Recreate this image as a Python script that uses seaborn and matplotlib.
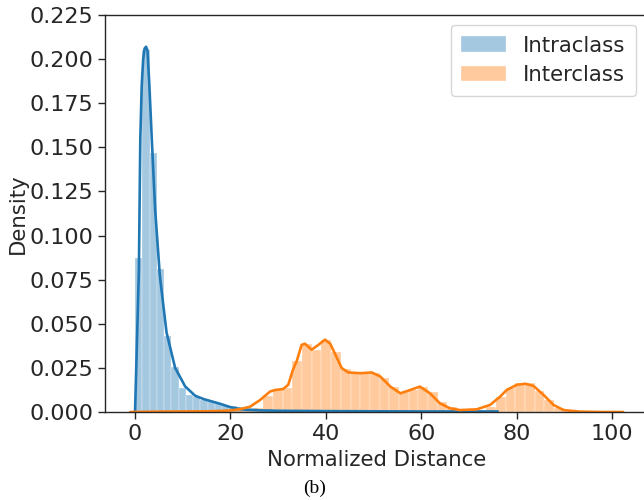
import numpy as np
import pandas as pd
import matplotlib
matplotlib.use("Agg")
import matplotlib.pyplot as plt
import seaborn as sns

# ---- data ----
intra_range = (0.0, 76.0)     # 50 bins
intra_heights = [0.087, 0.205, 0.147, 0.081, 0.043, 0.0256, 0.0137, 0.0097, 0.0085, 0.007,
                 0.006, 0.005, 0.0042, 0.0035, 0.003, 0.0025, 0.0021, 0.0018, 0.0015, 0.0013,
                 0.0012, 0.0011, 0.001, 0.0009, 0.0009, 0.0008, 0.0008, 0.0007, 0.0007, 0.0006,
                 0.0006, 0.0006, 0.0005, 0.0005, 0.0005, 0.0005, 0.0004, 0.0004, 0.0004, 0.0004,
                 0.0004, 0.0003, 0.0003, 0.0003, 0.0003, 0.0003, 0.0003, 0.0003, 0.0002, 0.0004]

inter_range = (0.5, 102.0)    # 50 bins
inter_heights = [0.0001, 0.0001, 0.0001, 0.0002, 0.0002, 0.0002, 0.0003, 0.0003, 0.0003, 0.0006,
                 0.001, 0.0015, 0.0025, 0.009, 0.0125, 0.0136, 0.029, 0.0387, 0.0353, 0.0406,
                 0.0338, 0.0244, 0.022, 0.022, 0.0223, 0.019, 0.0144, 0.0116, 0.0125, 0.0144,
                 0.0116, 0.0059, 0.0028, 0.0017, 0.001, 0.0012, 0.0028, 0.0087, 0.0136, 0.0163,
                 0.0163, 0.0121, 0.0068, 0.0023, 0.0008, 0.0004, 0.0002, 0.0001, 0.0001, 0.0001]

intra_kde_x = [0, 0.4, 0.8, 1.1, 1.4, 1.7, 2.0, 2.3, 2.6, 3.0, 3.5, 4.2, 5.2, 6.6, 8.4, 10.5,
               12.6, 14.5, 16.1, 18.0, 19.9, 22.6, 26, 30, 40, 50, 60, 70, 76]
intra_kde_y = [0.0, 0.04, 0.08, 0.155, 0.185, 0.2, 0.206, 0.207, 0.205, 0.185, 0.155, 0.115,
               0.077, 0.045, 0.025, 0.0145, 0.0092, 0.0072, 0.006, 0.0045, 0.0028, 0.0014,
               0.0009, 0.0007, 0.0005, 0.0004, 0.0003, 0.0003, 0.0003]

inter_kde_x = [-1, 5, 10, 15, 18, 20, 22, 24.1, 26.2, 28.3, 29.4, 31, 32.1, 33.1, 33.9, 34.9,
               35.6, 37, 38.4, 39.8, 40.9, 42.3, 43.3, 44.7, 47.2, 49.6, 51.4, 53.5, 55.6, 57.7,
               59.7, 61.8, 63.9, 66, 68.1, 71.6, 74.4, 76.5, 77.9, 80, 81.8, 83.5, 85.6, 87.7,
               89.8, 93.3, 98, 102.3]
inter_kde_y = [0.0, 0.0002, 0.0003, 0.0004, 0.0006, 0.0009, 0.0016, 0.003, 0.0068, 0.0116,
               0.0125, 0.013, 0.0154, 0.024, 0.029, 0.038, 0.0387, 0.0353, 0.038, 0.041, 0.0387,
               0.0307, 0.0249, 0.0224, 0.022, 0.0224, 0.0201, 0.0144, 0.0106, 0.0125, 0.0144,
               0.0106, 0.0049, 0.0021, 0.0011, 0.0015, 0.004, 0.0087, 0.0125, 0.0154, 0.016,
               0.0148, 0.0097, 0.004, 0.0011, 0.0002, 0.0, 0.0]

labels = ["Intraclass", "Interclass"]
xticks = [0, 20, 40, 60, 80, 100]
yticks = [0.000, 0.025, 0.050, 0.075, 0.100, 0.125, 0.150, 0.175, 0.200, 0.225]

# ---- style ----
sns.set_style("ticks")
plt.rcParams['font.family'] = ['DejaVu Sans']
FS = 15.3
TFS = 16
blue = "#1f77b4"
orange = "#ff7f0e"

fig = plt.figure(figsize=(6.44, 5.0), dpi=100)
ax = fig.add_axes([105 / 644, 88 / 500, 543 / 644, 397 / 500])


def hist(ax, rng, heights, color, label):
    n = len(heights)
    width = (rng[1] - rng[0]) / n
    centers = [rng[0] + width * (i + 0.5) for i in range(n)]
    df = pd.DataFrame({"x": centers, "w": heights})
    sns.histplot(data=df, x="x", weights="w", bins=n, binrange=rng, stat="count", color=color,
                 alpha=0.4, edgecolor="white", linewidth=0.2, label=label, ax=ax)


hist(ax, intra_range, intra_heights, blue, labels[0])
hist(ax, inter_range, inter_heights, orange, labels[1])

sns.lineplot(x=intra_kde_x, y=intra_kde_y, color=blue, lw=1.9, sort=False, legend=False, ax=ax)
sns.lineplot(x=inter_kde_x, y=inter_kde_y, color=orange, lw=1.9, sort=False, legend=False, ax=ax)

ax.set_xlim(-6.3, 107.5)
ax.set_ylim(0, 0.225)
ax.set_xticks(xticks)
ax.set_yticks(yticks)
ax.set_xticklabels([str(t) for t in xticks])
ax.set_yticklabels([f"{t:.3f}" for t in yticks])
ax.tick_params(labelsize=TFS, length=5, width=1, colors="#262626")
ax.set_xlabel("Normalized Distance", fontsize=FS, color="#262626", labelpad=4.5)
ax.set_ylabel("Density", fontsize=FS, color="#262626", labelpad=1)
for s in ax.spines.values():
    s.set_color("#262626")
    s.set_linewidth(1.0)

ax.legend(loc="upper right", bbox_to_anchor=(0.978, 0.975), borderaxespad=0, fontsize=FS,
          frameon=True, handlelength=2.1, handleheight=0.75, borderpad=0.5, labelspacing=0.45)

fig.text(315 / 644, 12 / 500, "(b)", family=["Liberation Serif"], fontsize=14,
         ha="center", va="center", color="black")

fig.savefig("out.png", dpi=100)
